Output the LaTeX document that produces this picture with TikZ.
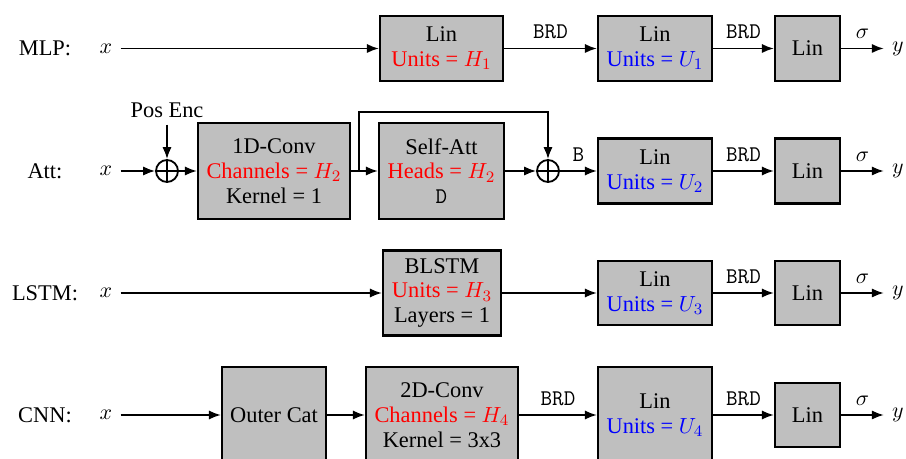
\documentclass[tikz,border=0pt]{standalone}
\usepackage{fontspec}
\setmainfont{Liberation Serif}
\usetikzlibrary{arrows.meta,calc}
\begin{document}
\begin{tikzpicture}[x=0.5pt,y=-0.5pt,
  font=\fontsize{11.2}{12.4}\selectfont,
  blk/.style={draw,line width=1.1pt,fill=black!25,align=center,inner sep=0pt},
  conn/.style={line width=0.9pt,-{Latex[length=6pt,width=4.6pt]}},
  sumnode/.style={draw,circle,line width=0.9pt,minimum size=11pt,inner sep=0pt},
  io/.style={inner sep=4pt},
  rowlbl/.style={inner sep=0pt},
  tlbl/.style={font=\fontsize{11.2}{12.4}\selectfont\ttfamily,above=1pt},
  mlbl/.style={above=1pt}
]
\useasboundingbox (0,0) rectangle (906,459);
\clip (0,0) rectangle (906,459);

% ---------- MLP ----------
\node[rowlbl] (lmlp) at (45,48.5) {MLP:};
\node[io] (x1) at (106,48.5) {$x$};
\node[blk,minimum width=61.5pt,minimum height=32.5pt] (a1) at (441.5,48.5) {Lin\\\textcolor{red}{Units = $H_1$}};
\node[blk,minimum width=57pt,minimum height=32.5pt] (b1) at (655,48.5) {Lin\\\textcolor{blue}{Units = $U_1$}};
\node[blk,minimum width=32.5pt,minimum height=32.5pt] (c1) at (807.5,48.5) {Lin};
\node[io] (y1) at (898,48.5) {$y$};
\draw[conn] (x1) -- (a1);
\draw[conn] (a1) -- node[tlbl] {BRD} (b1);
\draw[conn] (b1) -- node[tlbl] {BRD} (c1);
\draw[conn] (c1) -- node[mlbl] {$\sigma$} (y1);

% ---------- Att ----------
\node[rowlbl] (latt) at (45,171) {Att:};
\node[io] (x2) at (106,171) {$x$};
\node[sumnode] (s1) at (167,171) {};
\draw[line width=0.9pt] (s1.north) -- (s1.south) (s1.west) -- (s1.east);
\node (pe) at (167,110) {Pos Enc};
\node[blk,minimum width=76pt,minimum height=48pt] (conv1) at (274,171) {1D-Conv\\\textcolor{red}{Channels = $H_2$}\\Kernel = 1};
\node[blk,minimum width=62.5pt,minimum height=48pt] (satt) at (441.5,171) {Self-Att\\\textcolor{red}{Heads = $H_2$}\\\texttt{D}};
\node[sumnode] (s2) at (548,171) {};
\draw[line width=0.9pt] (s2.north) -- (s2.south) (s2.west) -- (s2.east);
\node[blk,minimum width=57pt,minimum height=32.5pt] (b2) at (655,171) {Lin\\\textcolor{blue}{Units = $U_2$}};
\node[blk,minimum width=32.5pt,minimum height=32.5pt] (c2) at (807.5,171) {Lin};
\node[io] (y2) at (898,171) {$y$};
\draw[conn] (x2) -- (s1);
\draw[conn] (pe) -- (s1);
\draw[conn] (s1) -- (conv1);
\draw[conn] (conv1) -- (satt);
\coordinate (sk) at (359,171);
\draw[conn] (sk) -- ++(0,-59) -| (s2.north);
\draw[conn] (satt) -- (s2);
\draw[conn] (s2) -- node[tlbl] {B} (b2);
\draw[conn] (b2) -- node[tlbl] {BRD} (c2);
\draw[conn] (c2) -- node[mlbl] {$\sigma$} (y2);

% ---------- LSTM ----------
\node[rowlbl] (llstm) at (45,293) {LSTM:};
\node[io] (x3) at (106,293) {$x$};
\node[blk,minimum width=59pt,minimum height=42.5pt] (a3) at (442,293) {BLSTM\\\textcolor{red}{Units = $H_3$}\\Layers = 1};
\node[blk,minimum width=57pt,minimum height=32pt] (b3) at (655,293) {Lin\\\textcolor{blue}{Units = $U_3$}};
\node[blk,minimum width=32.5pt,minimum height=32pt] (c3) at (807.5,293) {Lin};
\node[io] (y3) at (898,293) {$y$};
\draw[conn] (x3) -- (a3);
\draw[conn] (a3) -- (b3);
\draw[conn] (b3) -- node[tlbl] {BRD} (c3);
\draw[conn] (c3) -- node[mlbl] {$\sigma$} (y3);

% ---------- CNN ----------
\node[rowlbl] (lcnn) at (45,415) {CNN:};
\node[io] (x4) at (106,415) {$x$};
\node[blk,minimum width=52pt,minimum height=48pt] (oc) at (274,415) {Outer Cat};
\node[blk,minimum width=76pt,minimum height=48pt] (conv2) at (442,415) {2D-Conv\\\textcolor{red}{Channels = $H_4$}\\Kernel = 3x3};
\node[blk,minimum width=57pt,minimum height=48pt] (b4) at (655,415) {Lin\\\textcolor{blue}{Units = $U_4$}};
\node[blk,minimum width=32.5pt,minimum height=32pt] (c4) at (807.5,415) {Lin};
\node[io] (y4) at (898,415) {$y$};
\draw[conn] (x4) -- (oc);
\draw[conn] (oc) -- (conv2);
\draw[conn] (conv2) -- node[tlbl] {BRD} (b4);
\draw[conn] (b4) -- node[tlbl] {BRD} (c4);
\draw[conn] (c4) -- node[mlbl] {$\sigma$} (y4);
\end{tikzpicture}
\end{document}
